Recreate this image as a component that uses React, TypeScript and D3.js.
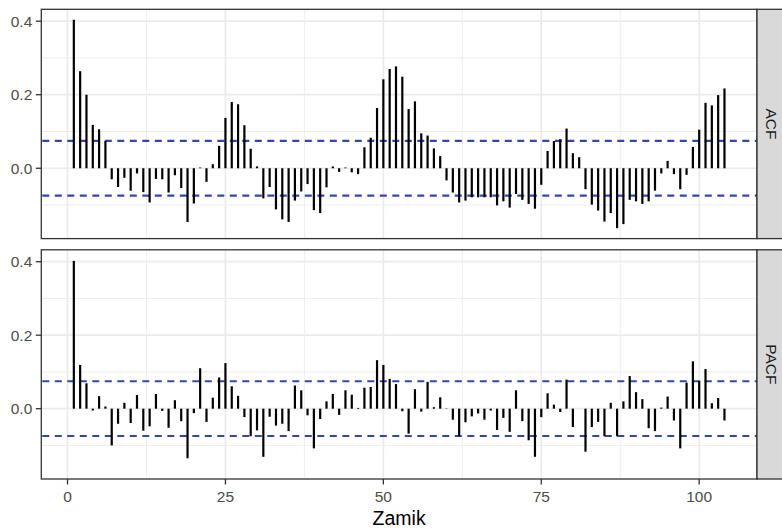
import React from "react";
import * as d3 from "d3";

const lags: number[] = Array.from({ length: 104 }, (_, i) => i + 1);

const acfValues: number[] = [
  0.404, 0.264, 0.2, 0.118, 0.106, 0.074, -0.03, -0.051, -0.026, -0.061,
  -0.014, -0.065, -0.093, -0.029, -0.03, -0.066, -0.019, -0.054, -0.146, -0.096,
  0.002, -0.037, 0.011, 0.061, 0.137, 0.18, 0.174, 0.117, 0.053, 0.005,
  -0.082, -0.051, -0.112, -0.139, -0.146, -0.088, -0.063, -0.043, -0.114, -0.122,
  -0.052, 0.005, -0.01, 0.002, -0.011, -0.016, 0.057, 0.083, 0.164, 0.242,
  0.27, 0.277, 0.249, 0.161, 0.182, 0.095, 0.089, 0.054, 0.033, -0.033,
  -0.066, -0.093, -0.088, -0.079, -0.079, -0.079, -0.079, -0.101, -0.09, -0.107,
  -0.07, -0.086, -0.097, -0.11, -0.045, 0.047, 0.074, 0.079, 0.108, 0.041,
  0.03, -0.057, -0.099, -0.115, -0.145, -0.122, -0.163, -0.152, -0.086, -0.09,
  -0.097, -0.09, -0.061, -0.014, 0.02, -0.016, -0.057, -0.018, 0.058, 0.105,
  0.178, 0.171, 0.199, 0.217,
];

const pacfValues: number[] = [
  0.402, 0.119, 0.069, -0.005, 0.034, 0.006, -0.1, -0.041, 0.016, -0.039,
  0.037, -0.06, -0.048, 0.04, -0.006, -0.052, 0.023, -0.034, -0.135, -0.012,
  0.11, -0.036, 0.03, 0.085, 0.124, 0.061, 0.035, -0.023, -0.075, -0.059,
  -0.131, -0.022, -0.046, -0.041, -0.061, 0.063, 0.05, -0.018, -0.108, -0.028,
  0.02, 0.04, -0.017, 0.05, 0.038, 0.002, 0.057, 0.059, 0.132, 0.119,
  0.081, 0.067, -0.007, -0.068, 0.053, -0.008, 0.073, 0.004, 0.031, -0.001,
  -0.03, -0.075, -0.037, -0.021, -0.013, -0.03, -0.005, -0.058, -0.025, -0.063,
  0.05, -0.034, -0.086, -0.131, -0.023, 0.042, 0.011, -0.009, 0.079, -0.05,
  0.0, -0.117, -0.05, -0.036, -0.075, 0.016, -0.075, 0.02, 0.089, 0.045,
  0.026, -0.053, -0.061, 0.003, 0.033, -0.032, -0.108, 0.071, 0.129, 0.076,
  0.108, 0.015, 0.029, -0.032,
];

const panelLabels: string[] = ["ACF", "PACF"];
const confLimit = 0.0745;
const xTicks: number[] = [0, 25, 50, 75, 100];
const xMinor: number[] = [12.5, 37.5, 62.5, 87.5];
const yTicks: number[] = [0, 0.2, 0.4];
const yMinor: number[] = [-0.1, 0.1, 0.3];
const xTitle = "Zamik";

const W = 782;
const H = 529;
const panelLeft = 41.3;
const panelRight = 757;
const panels = [
  { top: 9.3, bottom: 238.6 },
  { top: 249.8, bottom: 479 },
];
const stripWidth = 30;
const font = "'Liberation Sans', Arial, Helvetica, sans-serif";

function expand(ext: [number, number], mult = 0.05): [number, number] {
  const d = (ext[1] - ext[0]) * mult;
  return [ext[0] - d, ext[1] + d];
}

export default function App() {
  const x = d3
    .scaleLinear()
    .domain(expand(d3.extent(lags) as [number, number]))
    .range([panelLeft, panelRight]);

  const allY = [...acfValues, ...pacfValues, confLimit, -confLimit];
  const yDomain = expand(d3.extent(allY) as [number, number]);

  const series = [acfValues, pacfValues];

  return (
    <svg
      width={W}
      height={H}
      style={{ position: "absolute", left: 0, top: 0, background: "#fff" }}
      fontFamily={font}
    >
      <rect x={0} y={0} width={W} height={H} fill="#fff" />
      {panels.map((p, pi) => {
        const y = d3.scaleLinear().domain(yDomain).range([p.bottom, p.top]);
        const vals = series[pi];
        const midY = (p.top + p.bottom) / 2;
        return (
          <g key={pi}>
            <rect x={panelLeft} y={p.top} width={panelRight - panelLeft} height={p.bottom - p.top} fill="#fff" />
            {xMinor.map((t) => (
              <line key={"xm" + t} x1={x(t)} x2={x(t)} y1={p.top} y2={p.bottom} stroke="#EBEBEB" strokeWidth={0.9} />
            ))}
            {yMinor.map((t) => (
              <line key={"ym" + t} x1={panelLeft} x2={panelRight} y1={y(t)} y2={y(t)} stroke="#EBEBEB" strokeWidth={0.9} />
            ))}
            {xTicks.map((t) => (
              <line key={"xM" + t} x1={x(t)} x2={x(t)} y1={p.top} y2={p.bottom} stroke="#EBEBEB" strokeWidth={1.7} />
            ))}
            {yTicks.map((t) => (
              <line key={"yM" + t} x1={panelLeft} x2={panelRight} y1={y(t)} y2={y(t)} stroke="#EBEBEB" strokeWidth={1.7} />
            ))}
            {[confLimit, -confLimit].map((c) => (
              <line
                key={"c" + c}
                x1={panelLeft + 1}
                x2={panelRight}
                y1={y(c)}
                y2={y(c)}
                stroke="#3347AA"
                strokeWidth={2.1}
                strokeDasharray="7 5.5"
              />
            ))}
            {vals.map((v, i) => (
              <line
                key={"b" + i}
                x1={x(lags[i])}
                x2={x(lags[i])}
                y1={y(0)}
                y2={y(v)}
                stroke="#000"
                strokeWidth={2.2}
              />
            ))}
            <rect
              x={panelLeft}
              y={p.top}
              width={panelRight - panelLeft}
              height={p.bottom - p.top}
              fill="none"
              stroke="#333333"
              strokeWidth={1.3}
            />
            {yTicks.map((t) => (
              <g key={"yt" + t}>
                <line x1={panelLeft - 5.5} x2={panelLeft} y1={y(t)} y2={y(t)} stroke="#333333" strokeWidth={1.3} />
                <text
                  x={panelLeft - 9}
                  y={y(t)}
                  dy="0.36em"
                  textAnchor="end"
                  fontSize={15.5}
                  fill="#4D4D4D"
                >
                  {t.toFixed(1)}
                </text>
              </g>
            ))}
            <rect
              x={panelRight}
              y={p.top}
              width={stripWidth}
              height={p.bottom - p.top}
              fill="#D9D9D9"
              stroke="#333333"
              strokeWidth={1.3}
            />
            <text
              transform={`translate(${panelRight + 15},${midY}) rotate(90)`}
              textAnchor="middle"
              dy="0.36em"
              fontSize={15.5}
              fill="#1A1A1A"
            >
              {panelLabels[pi]}
            </text>
          </g>
        );
      })}
      {xTicks.map((t) => (
        <g key={"xt" + t}>
          <line
            x1={x(t)}
            x2={x(t)}
            y1={panels[1].bottom}
            y2={panels[1].bottom + 5.5}
            stroke="#333333"
            strokeWidth={1.3}
          />
          <text x={x(t)} y={502} textAnchor="middle" fontSize={15.5} fill="#4D4D4D">
            {t}
          </text>
        </g>
      ))}
      <text x={(panelLeft + panelRight) / 2} y={525} textAnchor="middle" fontSize={19.5} fill="#000">
        {xTitle}
      </text>
    </svg>
  );
}
